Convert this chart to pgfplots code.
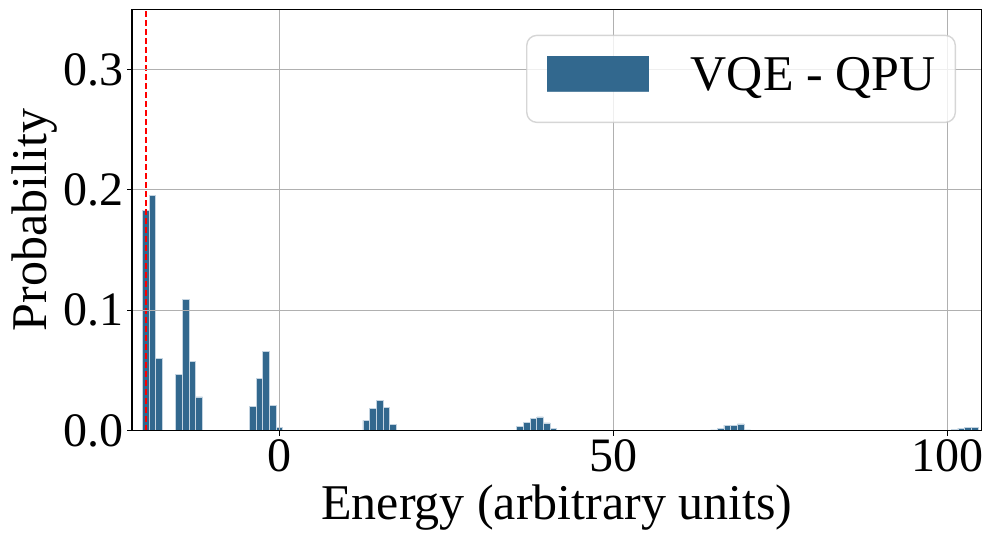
\documentclass[border=0pt]{standalone}
\usepackage{fontspec}
\setmainfont{Liberation Serif}
\usepackage{pgfplots}
\pgfplotsset{compat=1.18}
\definecolor{barcol}{RGB}{50,104,142}
\definecolor{baredge}{RGB}{196,212,225}
\definecolor{gridgray}{RGB}{176,176,176}
\definecolor{framegray}{RGB}{204,204,204}
\begin{document}
\begin{tikzpicture}
\useasboundingbox (-132pt,-115.3pt) rectangle (864pt,430.7pt);
\begin{axis}[
  at={(0pt,0pt)}, anchor=south west, scale only axis,
  width=849.7pt, height=421.4pt,
  xmin=-22.05, xmax=105.05, ymin=0, ymax=0.35,
  xtick={0,50,100}, ytick={0,0.1,0.2,0.3},
  yticklabel style={/pgf/number format/.cd, fixed, fixed zerofill, precision=1},
  /pgf/number format/assume math mode=true,
  tick label style={font=\fontsize{48}{56}\selectfont},
  label style={font=\fontsize{50}{60}\selectfont},
  xlabel={Energy (arbitrary units)},
  ylabel={Probability},
  xlabel style={at={(axis description cs:0.5,0)}, anchor=base, yshift=-88.3pt},
  ylabel style={at={(axis description cs:0,0.5)}, anchor=base, yshift=85pt},
  tick align=outside, tick pos=left,
  major tick length=4.9pt,
  every tick/.style={black, line width=1.1pt},
  axis line style={black, line width=1.1pt},
  grid=major,
  major grid style={gridgray, line width=1.1pt},
  axis on top,
  legend style={
    at={(rel axis cs:1,1)}, anchor=north east, xshift=-25.7pt, yshift=-25.4pt,
    draw=framegray, line width=1.4pt, rounded corners=10pt,
    fill=white, fill opacity=0.8, draw opacity=0.8, text opacity=1,
    inner xsep=20pt, inner ysep=20.3pt,
    font=\fontsize{50}{60}\selectfont,
    nodes={inner sep=0pt, text depth=0pt},
    cells={anchor=center},
  },
]
\addplot[ybar, bar width=1, bar shift=0pt, fill=barcol, draw=baredge, line width=0.9pt,
  legend image code/.code={%
    \fill[barcol, fill opacity=1, sharp corners] (0pt,-17.65pt) rectangle (101.7pt,17.65pt);
    \path (0pt,-27.8pt) (143.2pt,0pt);}]
coordinates {
(-20,0.1826) (-19,0.1953) (-18,0.0600)
(-15,0.0470) (-14,0.1093) (-13,0.0578) (-12,0.0280)
(-4,0.0202) (-3,0.0435) (-2,0.0656) (-1,0.0207) (0,0.0025)
(13,0.0086) (14,0.0183) (15,0.0252) (16,0.0191) (17,0.0050) (18,0.0005)
(36,0.0033) (37,0.0070) (38,0.0103) (39,0.0114) (40,0.0064) (41,0.0017)
(65,0.0006) (66,0.0022) (67,0.0047) (68,0.0046) (69,0.0056) (70,0.0006)
(101,0.0011) (102,0.0022) (103,0.0030) (104,0.0030)
};
\addlegendentry{VQE - QPU}
\addplot[red, line width=2.2pt, dash pattern=on 6pt off 3pt, forget plot]
coordinates {(-20,0) (-20,0.35)};
\end{axis}
\end{tikzpicture}
\end{document}
